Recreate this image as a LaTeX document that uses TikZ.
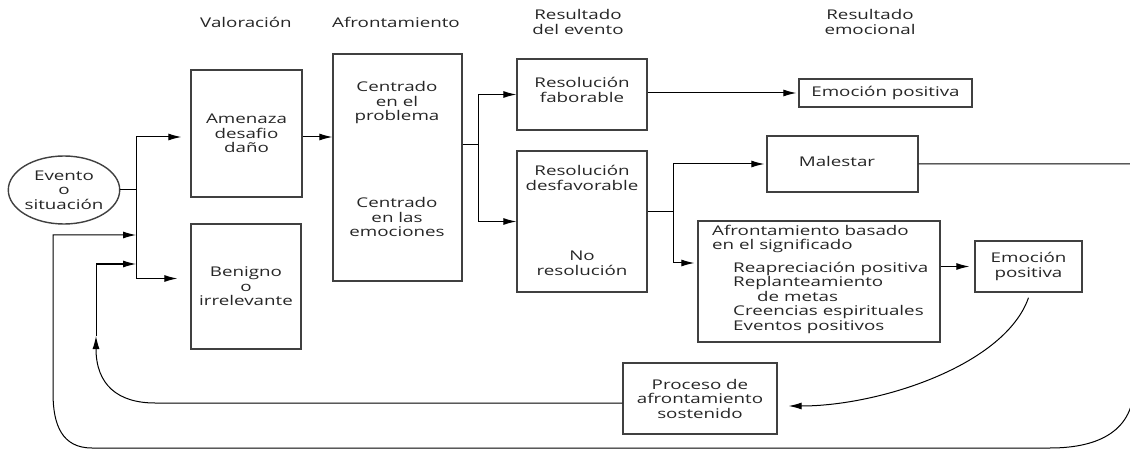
\documentclass[tikz,border=0pt]{standalone}
\usepackage{fontspec}
\setmainfont{Open Sans}[FakeStretch=1.4]
\usetikzlibrary{arrows.meta,shapes.geometric,calc}
\definecolor{txt}{HTML}{262626}
\definecolor{bord}{HTML}{404040}
\tikzset{
  box/.style={draw=bord,line width=1.4pt,rectangle,inner sep=0pt,align=center,text=txt},
  lbl/.style={inner sep=0pt,align=center,text=txt},
  conn/.style={draw=black,line width=1pt},
  arr/.style={conn,-{Latex[length=13pt,width=7pt]}},
}
\begin{document}
\begin{tikzpicture}[x=1pt,y=-1pt,font=\fontsize{13.4}{14.5}\selectfont]
\useasboundingbox (0,0) rectangle (1130,449);
\fill[white] (0,0) rectangle (1130,449);
\clip (0,0) rectangle (1130,449);
% headers
\node[lbl] (h1) at (246,22) {Valoración};
\node[lbl] (h2) at (396,22) {Afrontamiento};
\node[lbl] (h3) at (578,22) {Resultado\\del evento};
\node[lbl] (h4) at (870,22) {Resultado\\emocional};
% nodes
\node[box,ellipse,minimum width=108pt,minimum height=68pt] (ev) at (64,190) {Evento\\o\\situación};
\node[box,minimum width=111pt,minimum height=127pt] (am) at (246.5,133.5) {Amenaza\\desafio\\daño};
\node[box,minimum width=110pt,minimum height=125pt] (be) at (246,286.5) {Benigno\\o\\irrelevante};
\node[box,minimum width=129pt,minimum height=227pt] (af) at (397.5,167.5) {};
\node[lbl] (af1) at (397,103) {Centrado\\en el\\problema};
\node[lbl] (af2) at (397,217) {Centrado\\en las\\emociones};
\node[box,minimum width=130pt,minimum height=71pt] (rf) at (582,94.5) {};
\node[lbl] (rft) at (582,90) {Resolución\\faborable};
\node[box,minimum width=130pt,minimum height=141pt] (rd) at (582,221.5) {};
\node[lbl] (rd1) at (582,178) {Resolución\\desfavorable};
\node[lbl] (rd2) at (582,263.5) {No\\resolución};
\node[box,minimum width=173pt,minimum height=28pt] (ep1) at (885.5,93) {Emoción positiva};
\node[box,minimum width=151pt,minimum height=56pt] (ma) at (842.5,164) {};
\node[lbl] (mat) at (837,161) {Malestar};
\node[box,minimum width=242pt,minimum height=121pt] (ab) at (819,281.5) {};
\node[lbl,anchor=west,align=left] (ab1) at (712,239) {Afrontamiento basado\\en el significado};
\node[lbl,anchor=west,align=left] (ab2) at (733,297.5) {Reapreciación positiva\\Replanteamiento\\\hspace*{24pt}de metas\\Creencias espirituales\\Eventos positivos};
\node[box,minimum width=107pt,minimum height=51pt] (ep2) at (1028.5,266.5) {Emoción\\positiva};
\node[box,minimum width=154pt,minimum height=71pt] (pr) at (700,398.5) {Proceso de\\afrontamiento\\sostenido};
% junctions
\coordinate (j1) at (136,190);
\coordinate (j2) at (478,145);
\coordinate (j3) at (673,212);
% connectors
\draw[conn] (ev.east) -- (j1);
\draw[arr,shorten >=9pt] (j1) |- ([yshift=-3.5pt]am.west);
\draw[arr,shorten >=13pt] (j1) |- ([yshift=8pt]be.west);
\draw[arr] ([yshift=-3.5pt]am.east) -- ([yshift=-3.5pt]am.east -| af.west);
\draw[conn] (af.east |- j2) -- (j2);
\draw[arr] (j2) |- (rf.west);
\draw[arr] (j2) |- (rd.west);
\draw[arr,shorten >=2pt] (rf.east |- ep1.west) -- (ep1.west);
\draw[conn] (rd.east |- j3) -- (j3);
\draw[arr,shorten >=2pt] (j3) |- (ma.west);
\draw[arr,shorten >=3pt] (j3) |- ([yshift=18.5pt]ab.west);
\draw[arr,shorten >=5pt] (ab.east |- ep2.west) -- (ep2.west);
\draw[arr] ([yshift=-5pt]ep2.south) .. controls (1005,365) and (880,406) .. ([xshift=11pt,yshift=-7.5pt]pr.east);
\coordinate (up) at (96,336);
\draw[arr] ([yshift=-4.5pt]pr.west) -- (155,403) .. controls (118,403) and (96,385) .. (up);
\draw[arr] (up) |- (j1 |- 0,264);
\draw[arr] (ma.east) -- (1134,164) -- (1134,385) .. controls (1134,430) and (1100,448) .. (1050,448) -- (92,448) .. controls (62,448) and (53,425) .. (53,393) -- (53,235) -- (j1 |- 0,235);
\end{tikzpicture}
\end{document}
